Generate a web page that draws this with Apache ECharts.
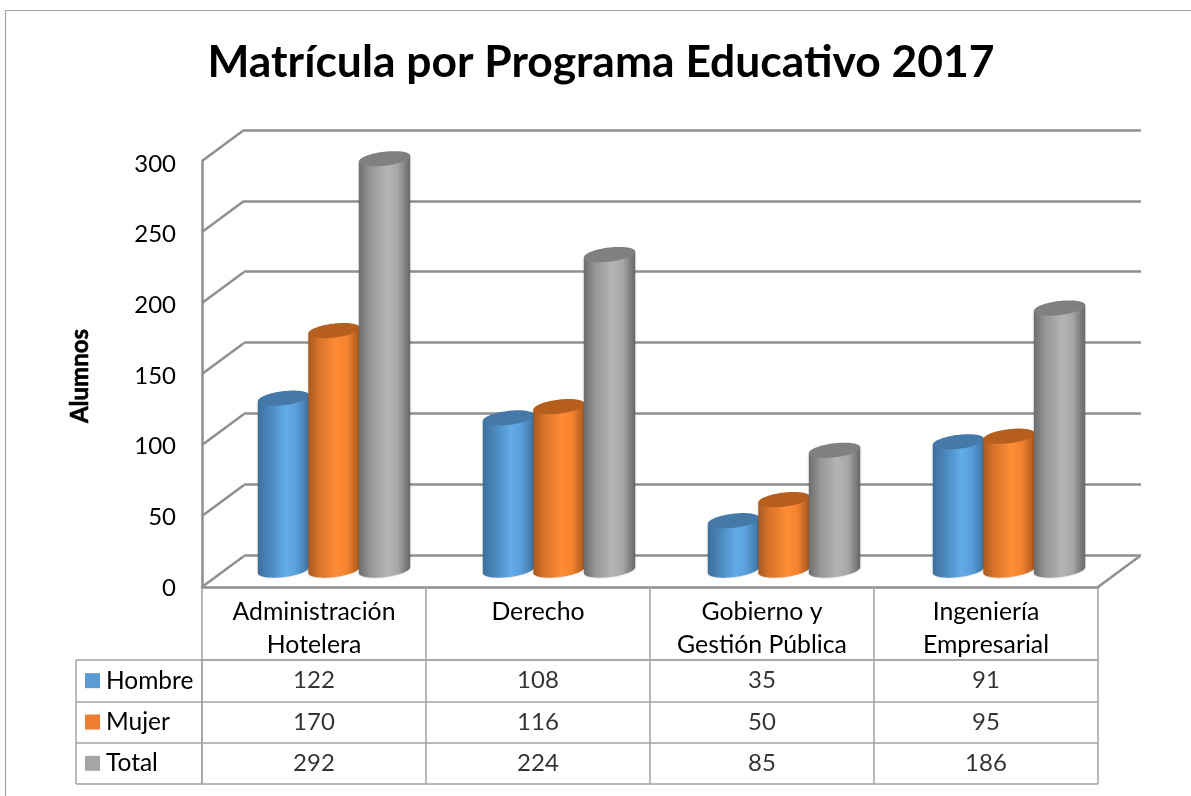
<!DOCTYPE html>
<html><head><meta charset="utf-8">
<style>html,body{margin:0;padding:0;background:#fff}#c{width:1191px;height:796px}</style>
<script src="https://cdn.jsdelivr.net/npm/echarts@6/dist/echarts.min.js"></script>
</head><body><div id="c"></div>
<script>
const categories = ['Administración\nHotelera', 'Derecho', 'Gobierno y\nGestión Pública', 'Ingeniería\nEmpresarial'];
const hombre = [122, 108, 35, 91];
const mujer = [170, 116, 50, 95];
const total = [292, 224, 85, 186];
const seriesNames = ['Hombre', 'Mujer', 'Total'];
const yTicks = [0, 50, 100, 150, 200, 250, 300];
const titleText = 'Matrícula por Programa Educativo 2017';
const yName = 'Alumnos';

const FONT = 'Lato';
const LINE = '#8f8f8f';
const TABLE = '#a3a3a3';
const depth = [42, -31];
const styles = [
  {swatch: '#5b9bd5', grad: ['#3c6f9c', '#4a86ba', '#62ace9', '#5a9fdb', '#3d719e'], top: '#457aa8'},
  {swatch: '#ed7d31', grad: ['#a9591f', '#d9752b', '#ff8b35', '#f5832f', '#a8571d'], top: '#b65e1e'},
  {swatch: '#a5a5a5', grad: ['#6d6d6d', '#959595', '#b4b4b4', '#a8a8a8', '#676767'], top: '#808080'}
];
const values = [hombre, mujer, total];

function gradient(c) {
  return {type: 'linear', x: 0, y: 0, x2: 1, y2: 0, colorStops: [
    {offset: 0, color: c[0]}, {offset: 0.22, color: c[1]}, {offset: 0.55, color: c[2]},
    {offset: 0.75, color: c[3]}, {offset: 1, color: c[4]}]};
}
function ellipsePt(cx, cy, a, b, t) {
  const th = -7 * Math.PI / 180;
  return [cx + a * Math.cos(t) * Math.cos(th) - b * Math.sin(t) * Math.sin(th),
          cy + a * Math.cos(t) * Math.sin(th) + b * Math.sin(t) * Math.cos(th)];
}
function cylinder(seriesIdx) {
  return function (params, api) {
    const band = api.size([1, 0])[0];
    const w = band * 0.23, a = w / 2, b = 7;
    const off = (seriesIdx - 1) * band * 0.2245;
    const topP = api.coord([api.value(0), api.value(1)]);
    const botP = api.coord([api.value(0), 0]);
    const cx = topP[0] + off;
    const body = [], lid = [];
    const N = 48;
    body.push(ellipsePt(cx, topP[1], a, b, Math.PI));
    for (let i = 0; i <= N; i++) body.push(ellipsePt(cx, botP[1], a, b, Math.PI - Math.PI * i / N));
    body.push(ellipsePt(cx, topP[1], a, b, 0));
    for (let i = 0; i < N * 2; i++) lid.push(ellipsePt(cx, topP[1], a, b, Math.PI * i / N));
    return {type: 'group', children: [
      {type: 'polygon', shape: {points: body}, style: {fill: gradient(styles[seriesIdx].grad), shadowBlur: 2, shadowColor: 'rgba(0,0,0,0.25)'}},
      {type: 'polygon', shape: {points: lid}, style: {fill: styles[seriesIdx].top}}
    ]};
  };
}
function wallEdge(params, api) {
  const band = api.size([1, 0])[0];
  const p = api.coord([api.value(0), api.value(1)]);
  const x = p[0] + api.value(2) * band;
  return {type: 'line', shape: {x1: x, y1: p[1], x2: x + depth[0], y2: p[1] + depth[1]},
    style: {stroke: LINE, lineWidth: 2.5}};
}
const edgeData = yTicks.map(v => [0, v, -0.5]).concat([[categories.length - 1, 0, 0.5]]);

const tableSeries = seriesNames.map((n, r) => ({
  type: 'scatter', name: n + ' tabla', xAxisIndex: 3, yAxisIndex: 3, symbolSize: 0, silent: true,
  data: values[r].map((v, c) => [c, r, v]),
  label: {show: true, position: 'inside', formatter: p => String(p.data[2]), color: '#000', fontFamily: FONT, fontSize: 24}
}));
const cylSeries = seriesNames.map((n, i) => ({
  type: 'custom', name: n, xAxisIndex: 1, yAxisIndex: 1, clip: false, z: 5 + i, silent: true,
  data: values[i].map((v, c) => [c, v]),
  renderItem: cylinder(i)
}));
const hiddenX = {type: 'category', data: categories, axisLine: {show: false}, axisTick: {show: false}, axisLabel: {show: false}};
const hiddenY = {type: 'value', min: 0, max: 300, interval: 50, axisLine: {show: false}, axisTick: {show: false}, axisLabel: {show: false}, splitLine: {show: false}};
const swatchRich = {};
seriesNames.forEach((n, i) => {
  swatchRich['s' + i] = {width: 15, height: 15, backgroundColor: styles[i].swatch};
});
swatchRich.t = {fontFamily: FONT, fontSize: 24.5, color: '#000', padding: [0, 0, 0, 6]};

const chart = echarts.init(document.getElementById('c'), null, {renderer: 'canvas'});
chart.setOption({
  animation: false,
  backgroundColor: '#fff',
  title: {text: titleText, left: 596, top: 36, textAlign: 'center',
    textStyle: {fontFamily: FONT, fontWeight: 'bold', fontSize: 44.4, color: '#000'}},
  grid: [
    {left: 202, width: 896, top: 161, height: 426},
    {left: 221.5, width: 900, top: 147.5, height: 422.5},
    {left: 244, width: 897, top: 130, height: 425},
    {left: 202, width: 896, top: 660, height: 124},
    {left: 202, width: 896, top: 164, height: 424}
  ],
  xAxis: [
    Object.assign({}, hiddenX, {gridIndex: 0, axisLine: {show: true, lineStyle: {color: LINE, width: 2.5}}}),
    Object.assign({}, hiddenX, {gridIndex: 1}),
    Object.assign({}, hiddenX, {gridIndex: 2}),
    {type: 'category', gridIndex: 3, position: 'top', data: categories,
      axisLine: {show: true, lineStyle: {color: TABLE, width: 1.5}},
      axisTick: {show: true, length: 73, interval: 0, lineStyle: {color: TABLE, width: 1.5}},
      splitLine: {show: true, interval: 0, lineStyle: {color: TABLE, width: 1.5}},
      axisLabel: {interval: 0, margin: -2, lineHeight: 33, color: '#000', fontFamily: FONT, fontSize: 24.8, verticalAlign: 'bottom',
        formatter: v => v.indexOf('\n') < 0 ? v + '\n ' : v}},
    Object.assign({}, hiddenX, {gridIndex: 4})
  ],
  yAxis: [
    Object.assign({}, hiddenY, {gridIndex: 0, axisLine: {show: true, lineStyle: {color: LINE, width: 2.5}}}),
    Object.assign({}, hiddenY, {gridIndex: 1}),
    Object.assign({}, hiddenY, {gridIndex: 2, splitLine: {show: true, lineStyle: {color: LINE, width: 2.5}}}),
    {type: 'category', gridIndex: 3, inverse: true, data: seriesNames,
      axisLine: {show: true, lineStyle: {color: TABLE, width: 1.5}},
      axisTick: {show: true, length: 126, interval: 0, lineStyle: {color: TABLE, width: 1.5}},
      splitLine: {show: true, interval: 0, lineStyle: {color: TABLE, width: 1.5}},
      axisLabel: {interval: 0, margin: 117, align: 'left', 
        formatter: (v, i) => '{s' + i + '|}{t|' + v + '}', rich: swatchRich}},
    Object.assign({}, hiddenY, {gridIndex: 4, name: yName, nameLocation: 'middle', nameRotate: 90, nameGap: 110,
      nameTextStyle: {fontFamily: FONT, fontWeight: 'bold', fontSize: 24, color: '#000', textBorderColor: '#000', textBorderWidth: 0.6},
      axisLabel: {show: true, margin: 26, color: '#000', fontFamily: FONT, fontSize: 24}})
  ],
  graphic: [
    {type: 'line', silent: true, shape: {x1: 76, y1: 660, x2: 76, y2: 784}, style: {stroke: TABLE, lineWidth: 1.5}},
    {type: 'polyline', silent: true, shape: {points: [[5.5, 796], [5.5, 10.5], [1191, 10.5]]}, style: {stroke: '#a6a6a6', lineWidth: 1.2, fill: 'none'}}
  ],
  series: [
    {type: 'custom', name: 'paredes', xAxisIndex: 0, yAxisIndex: 0, clip: false, silent: true, z: 3, data: edgeData, renderItem: wallEdge,
      encode: {x: 0, y: 1}}
  ].concat(cylSeries, tableSeries)
});
</script></body></html>
